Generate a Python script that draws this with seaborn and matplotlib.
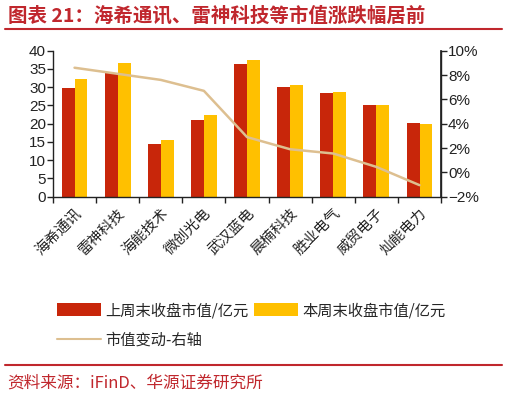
import numpy as np
import pandas as pd
import matplotlib
matplotlib.use("Agg")
import matplotlib.pyplot as plt
import seaborn as sns
from matplotlib.patches import Patch
from matplotlib.lines import Line2D
from matplotlib.ticker import FuncFormatter, FixedLocator

categories = ["海希通讯", "雷神科技", "海能技术", "微创光电", "武汉蓝电",
              "晨楠科技", "胜业电气", "威贸电子", "灿能电力"]
last_week = [29.7, 34.0, 14.4, 20.9, 36.3, 30.0, 28.3, 25.1, 20.3]
this_week = [32.3, 36.6, 15.5, 22.3, 37.4, 30.5, 28.7, 25.2, 20.0]
change_pct = [8.6, 8.1, 7.6, 6.7, 2.9, 1.9, 1.55, 0.45, -1.05]

series_names = ["上周末收盘市值/亿元", "本周末收盘市值/亿元"]
line_name = "市值变动-右轴"

RED = "#C8260A"
YELLOW = "#FFC000"
TAN = "#DDBF90"
TITLE_RED = "#C0272D"

sns.set_theme(style="white")
plt.rcParams["font.family"] = ["Liberation Sans", "Noto Sans CJK SC", "DejaVu Sans"]
plt.rcParams["axes.unicode_minus"] = True

df = pd.DataFrame({
    "cat": categories * 2,
    "val": last_week + this_week,
    "series": [series_names[0]] * len(categories) + [series_names[1]] * len(categories),
})

fig = plt.figure(figsize=(5.07, 3.97), dpi=100)
ax = fig.add_axes([0.1045, 0.5045, 0.7655, 0.3678])

sns.barplot(data=df, x="cat", y="val", hue="series", order=categories,
            hue_order=series_names, palette=[RED, YELLOW], width=0.6,
            saturation=1, ax=ax, legend=False, edgecolor="none")

ax.set_xlim(-0.5, len(categories) - 0.5)
ax.set_ylim(0, 40)
ax.set_yticks(range(0, 41, 5))
ax.set_xlabel("")
ax.set_ylabel("")

ax.spines["top"].set_visible(False)
for s in ["left", "bottom", "right"]:
    ax.spines[s].set_color("#222222")
    ax.spines[s].set_linewidth(1.0)

ax.tick_params(axis="y", which="major", direction="out", length=4, width=1,
               color="#222222", labelsize=11, pad=1, left=True, labelcolor="#222222")
ax.set_xticks(range(len(categories)))
ax.set_xticklabels(categories, rotation=45, ha="right", rotation_mode="anchor",
                   fontsize=10.5, color="#222222")
ax.tick_params(axis="x", which="major", length=0, pad=7)
ax.xaxis.set_minor_locator(FixedLocator(np.arange(-0.5, len(categories) + 0.5, 1.0)))
ax.tick_params(axis="x", which="minor", direction="out", length=4, width=1,
               color="#222222", bottom=True)

ax2 = ax.twinx()
sns.lineplot(x=np.arange(len(categories)), y=change_pct, color=TAN, linewidth=1.8,
             ax=ax2, legend=False)
ax2.set_ylim(-2, 10)
ax2.set_yticks(range(-2, 11, 2))
ax2.yaxis.set_major_formatter(FuncFormatter(lambda v, p: f"{int(v)}%".replace("-", "\u2212")))
ax2.tick_params(axis="y", direction="out", length=4, width=1, color="#222222",
                labelsize=11, pad=1, right=True, labelcolor="#222222")
ax2.spines["top"].set_visible(False)
ax2.spines["left"].set_visible(False)
ax2.spines["bottom"].set_visible(False)
ax2.spines["right"].set_color("#222222")
ax2.set_xlim(-0.5, len(categories) - 0.5)
ax2.grid(False)
ax.grid(False)

handles = [Patch(facecolor=RED, edgecolor="none"),
           Line2D([0], [0], color=TAN, linewidth=1.5),
           Patch(facecolor=YELLOW, edgecolor="none")]
labels = [series_names[0], line_name, series_names[1]]
fig.legend(handles, labels, ncol=2, loc="center left",
           bbox_to_anchor=(0.085, 0.18), frameon=False,
           handlelength=2.9, handleheight=0.9, handletextpad=0.3,
           columnspacing=0.3, labelspacing=0.85,
           prop={"family": ["Noto Sans CJK SC"], "size": 11})

# title
fig.text(0.015, 0.96, "图表 21：海希通讯、雷神科技等市值涨跌幅居前", color=TITLE_RED,
         fontsize=14, fontweight="bold", va="center", ha="left",
         family=["Noto Sans CJK SC"])
fig.add_artist(Line2D([0.01, 0.99], [0.926, 0.926], color=TITLE_RED, linewidth=1.5,
                      transform=fig.transFigure))
fig.add_artist(Line2D([0.01, 0.99], [0.081, 0.081], color=TITLE_RED, linewidth=1.5,
                      transform=fig.transFigure))
fig.text(0.015, 0.035, "资料来源：iFinD、华源证券研究所", color=TITLE_RED,
         fontsize=12, va="center", ha="left", family=["Noto Sans CJK SC"])

fig.savefig("out.png", dpi=100)
